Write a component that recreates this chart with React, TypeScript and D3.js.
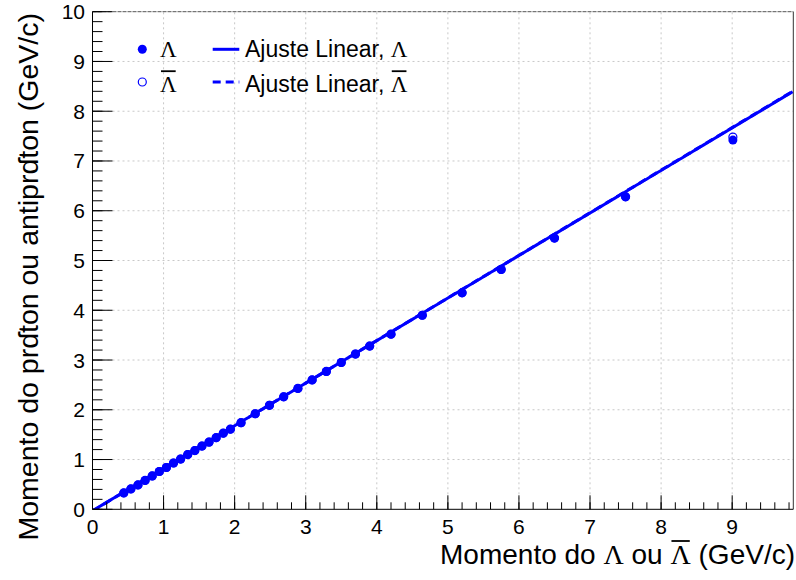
import React, { useLayoutEffect, useRef, useState } from "react";
import * as d3 from "d3";

const lambdaP = [0.44,0.54,0.64,0.74,0.84,0.94,1.04,1.14,1.24,1.34,1.44,1.54,1.64,1.74,1.84,1.94,2.09,2.29,2.49,2.69,2.89,3.09,3.29,3.5,3.7,3.9,4.2,4.64,5.2,5.75,6.5,7.5,9.01];
const protonP = [0.33,0.41,0.49,0.58,0.67,0.76,0.84,0.93,1.01,1.1,1.18,1.27,1.35,1.44,1.53,1.61,1.74,1.92,2.09,2.26,2.43,2.6,2.77,2.95,3.12,3.28,3.52,3.9,4.35,4.82,5.45,6.28,7.42];
const antiLambdaP = [0.44,0.54,0.64,0.74,0.84,0.94,1.04,1.14,1.24,1.34,1.44,1.54,1.64,1.74,1.84,1.94,2.09,2.29,2.49,2.69,2.89,3.09,3.29,3.5,3.7,3.9,4.2,4.64,5.2,5.75,6.5,7.5,9.01];
const antiProtonP = [0.33,0.41,0.49,0.58,0.67,0.76,0.84,0.93,1.01,1.1,1.18,1.27,1.35,1.44,1.53,1.61,1.74,1.92,2.09,2.26,2.43,2.6,2.77,2.95,3.12,3.28,3.52,3.9,4.35,4.82,5.45,6.28,7.48];
const fitLambda = [0.855, -0.03];
const fitAnti = [0.856, -0.032];
const xMajor = [0,1,2,3,4,5,6,7,8,9];
const yMajor = [0,1,2,3,4,5,6,7,8,9,10];

const BLUE = "#0000ff";
const SANS = "'Liberation Sans', Arial, Helvetica, sans-serif";
const SERIF = "'Liberation Serif', 'Times New Roman', serif";

type OL = { x1: number; x2: number; y: number };

export default function App() {
  const x = d3.scaleLinear().domain([0, 9.86]).range([92.5, 793.3]);
  const y = d3.scaleLinear().domain([0, 10]).range([509.3, 11.7]);
  const [x0, x1] = x.range();
  const [y0, y1] = y.range();
  const xMinor = d3.range(0, 9.86, 0.2);
  const yMinor = d3.range(0, 10.01, 0.2);
  const fitXs = d3.range(0, 9.87, 0.05);
  const line = (p: number[]) =>
    d3.line<number>().x((v) => x(v)).y((v) => y(p[0] * v + p[1]))(fitXs) || "";

  const titleRef = useRef<SVGTextElement>(null);
  const leg1Ref = useRef<SVGTextElement>(null);
  const leg2Ref = useRef<SVGTextElement>(null);
  const [overlines, setOverlines] = useState<OL[]>([]);

  useLayoutEffect(() => {
    const res: OL[] = [];
    const add = (el: SVGTextElement | null, idx: number, baseline: number, lift: number) => {
      if (!el) return;
      try {
        const e = el.getExtentOfChar(idx);
        res.push({ x1: e.x + 1, x2: e.x + e.width - 1, y: baseline - lift });
      } catch (err) {}
    };
    const t = titleRef.current;
    if (t) {
      const s = t.textContent || "";
      add(t, s.lastIndexOf("Λ"), 564, 23);
    }
    const l1 = leg1Ref.current;
    if (l1) add(l1, 0, 91.7, 20.5);
    const l2 = leg2Ref.current;
    if (l2) {
      const s = l2.textContent || "";
      add(l2, s.lastIndexOf("Λ"), 91.7, 20.5);
    }
    setOverlines(res);
  }, []);

  return (
    <svg width={796} height={580} style={{ position: "absolute", left: 0, top: 0, background: "#fff" }}>
      <defs>
        <clipPath id="plot">
          <rect x={x0} y={y1} width={x1 - x0} height={y0 - y1} />
        </clipPath>
      </defs>
      {/* grid */}
      {xMajor.filter((v) => v > 0).map((v) => (
        <line key={"gx" + v} x1={x(v)} x2={x(v)} y1={y0} y2={y1} stroke="#c8c8c8" strokeWidth={1} strokeDasharray="2,3" />
      ))}
      {yMajor.filter((v) => v > 0 && v < 10).map((v) => (
        <line key={"gy" + v} x1={x0} x2={x1} y1={y(v)} y2={y(v)} stroke="#c8c8c8" strokeWidth={1} strokeDasharray="2,3" />
      ))}
      {/* frame */}
      <line x1={x0} x2={x1} y1={y1} y2={y1} stroke="#555" strokeWidth={1} strokeDasharray="4,1" />
      <line x1={x1} x2={x1} y1={y1} y2={y0} stroke="#333" strokeWidth={1} />
      {/* fits */}
      <g clipPath="url(#plot)">
        <path d={line(fitAnti)} fill="none" stroke={BLUE} strokeWidth={3} strokeDasharray="8,5" />
        <path d={line(fitLambda)} fill="none" stroke={BLUE} strokeWidth={3} />
      </g>
      {/* markers */}
      {lambdaP.map((v, i) => (
        <circle key={"l" + i} cx={x(v)} cy={y(protonP[i])} r={4.5} fill={BLUE} />
      ))}
      {antiLambdaP.map((v, i) => (
        <circle key={"a" + i} cx={x(v)} cy={y(antiProtonP[i])} r={4} fill="none" stroke={BLUE} strokeWidth={1.2} />
      ))}
      {/* axes */}
      <line x1={x0} x2={x1} y1={y0} y2={y0} stroke="#000" strokeWidth={1} />
      <line x1={x0} x2={x0} y1={y0} y2={y1} stroke="#000" strokeWidth={1} />
      {xMinor.map((v, i) => (
        <line key={"xm" + i} x1={x(v)} x2={x(v)} y1={y0} y2={y0 - 7} stroke="#000" strokeWidth={1} />
      ))}
      {xMajor.map((v) => (
        <line key={"xM" + v} x1={x(v)} x2={x(v)} y1={y0} y2={y0 - 14} stroke="#000" strokeWidth={1} />
      ))}
      {yMinor.map((v, i) => (
        <line key={"ym" + i} x1={x0} x2={x0 + 10} y1={y(v)} y2={y(v)} stroke="#000" strokeWidth={1} />
      ))}
      {yMajor.map((v) => (
        <line key={"yM" + v} x1={x0} x2={x0 + 20} y1={y(v)} y2={y(v)} stroke="#000" strokeWidth={1} />
      ))}
      {xMajor.map((v) => (
        <text key={"xt" + v} x={x(v)} y={534} textAnchor="middle" fontFamily={SANS} fontSize={21} fill="#000">{v}</text>
      ))}
      {yMajor.map((v) => (
        <text key={"yt" + v} x={85} y={y(v) + 7.5} textAnchor="end" fontFamily={SANS} fontSize={21} fill="#000">{v}</text>
      ))}
      {/* axis titles */}
      <text ref={titleRef} x={795} y={564} textAnchor="end" fontFamily={SANS} fontSize={28} fill="#000">
        {"Momento do "}<tspan fontFamily={SERIF}>{"Λ"}</tspan>{" ou "}<tspan fontFamily={SERIF}>{"Λ"}</tspan>{" (GeV/c)"}
      </text>
      <text transform="translate(38,13) rotate(-90)" textAnchor="end" fontFamily={SANS} fontSize={28.5} fill="#000">
        Momento do prɗton ou antiprɗton (GeV/c)
      </text>
      {/* legend */}
      <circle cx={142.3} cy={49.3} r={4.5} fill={BLUE} />
      <text x={160} y={57.3} fontFamily={SERIF} fontSize={23} fill="#000">Λ</text>
      <line x1={212.7} x2={239.3} y1={49.3} y2={49.3} stroke={BLUE} strokeWidth={3} />
      <text x={245} y={57.3} fontFamily={SANS} fontSize={23} fill="#000">
        {"Ajuste Linear, "}<tspan fontFamily={SERIF}>{"Λ"}</tspan>
      </text>
      <circle cx={142.3} cy={82} r={4} fill="none" stroke={BLUE} strokeWidth={1.2} />
      <text ref={leg1Ref} x={160} y={91.7} fontFamily={SERIF} fontSize={23} fill="#000">Λ</text>
      <line x1={212.7} x2={239.3} y1={82} y2={82} stroke={BLUE} strokeWidth={3} strokeDasharray="8,5" />
      <text ref={leg2Ref} x={245} y={91.7} fontFamily={SANS} fontSize={23} fill="#000">
        {"Ajuste Linear, "}<tspan fontFamily={SERIF}>{"Λ"}</tspan>
      </text>
      {overlines.map((o, i) => (
        <line key={"ol" + i} x1={o.x1} x2={o.x2} y1={o.y} y2={o.y} stroke="#000" strokeWidth={1.8} />
      ))}
    </svg>
  );
}
